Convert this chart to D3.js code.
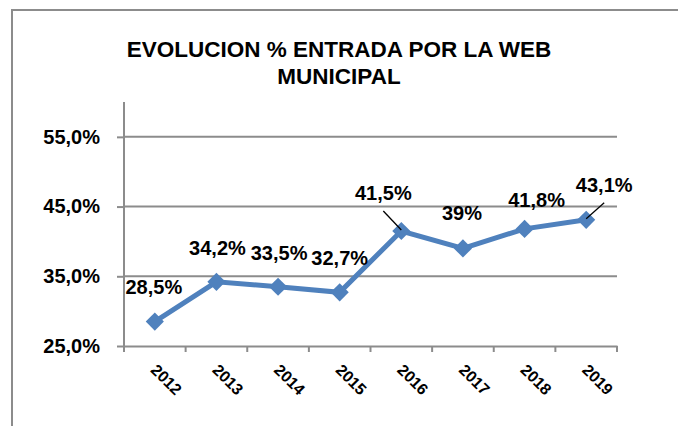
<!DOCTYPE html>
<html>
<head>
<meta charset="utf-8">
<script src="https://cdn.jsdelivr.net/npm/d3@7"></script>
<style>
  body { margin: 0; background: #fff; }
  text { font-family: "Liberation Sans", Arial, sans-serif; font-weight: bold; fill: #000; }
</style>
</head>
<body>
<svg id="chart"></svg>
<script>
const years = ["2012", "2013", "2014", "2015", "2016", "2017", "2018", "2019"];
const values = [28.5, 34.2, 33.5, 32.7, 41.5, 39, 41.8, 43.1];
const valueLabels = ["28,5%", "34,2%", "33,5%", "32,7%", "41,5%", "39%", "41,8%", "43,1%"];
const yTicks = [25, 35, 45, 55];
const titleLines = ["EVOLUCION % ENTRADA POR LA WEB", "MUNICIPAL"];

const w = 678;
const h = 426;
const pLeft = 124;
const pRight = 617;
const pTop = 102;
const pBottom = 346;

const svg = d3.select("#chart")
  .attr("width", w)
  .attr("height", h);

// outer frame (runs off the right and bottom edges)
svg.append("rect")
  .attr("x", 12).attr("y", 10)
  .attr("width", 700).attr("height", 460)
  .attr("fill", "none")
  .attr("stroke", "#8c8c8c")
  .attr("stroke-width", 2);

svg.selectAll(".title")
  .data(titleLines)
  .enter()
  .append("text")
  .attr("class", "title")
  .attr("x", 339)
  .attr("y", (d, i) => 57 + i * 27)
  .attr("text-anchor", "middle")
  .style("font-size", "22.5px")
  .text(d => d);

const xScale = d3.scaleBand()
  .domain(years)
  .range([pLeft, pRight]);

const yScale = d3.scaleLinear()
  .domain([25, 60])
  .range([pBottom, pTop]);

const cx = (d, i) => xScale(years[i]) + xScale.bandwidth() / 2;

// gridlines
svg.selectAll(".grid")
  .data(yTicks.slice(1))
  .enter()
  .append("line")
  .attr("x1", pLeft)
  .attr("x2", pRight)
  .attr("y1", d => yScale(d))
  .attr("y2", d => yScale(d))
  .attr("stroke", "#8c8c8c")
  .attr("stroke-width", 2);

// y axis
const yAxis = d3.axisLeft(yScale)
  .tickValues(yTicks)
  .tickSize(7)
  .tickFormat(d => d3.format(".1f")(d).replace(".", ",") + "%");
const gy = svg.append("g")
  .attr("transform", "translate(" + pLeft + ",0)")
  .call(yAxis);
gy.selectAll("path, line").attr("stroke", "#8c8c8c").attr("stroke-width", 2);
gy.select(".domain").attr("d", "M0," + pTop + "V" + pBottom);
gy.selectAll("text")
  .attr("x", -24)
  .style("font-size", "20px")
  .style("font-family", "Liberation Sans, Arial, sans-serif");

// x axis
const xAxis = d3.axisBottom(xScale).tickSize(0).tickSizeOuter(0);
const gx = svg.append("g")
  .attr("transform", "translate(0," + pBottom + ")")
  .call(xAxis);
gx.select(".domain").attr("stroke", "#8c8c8c").attr("stroke-width", 2);
gx.selectAll("text")
  .attr("text-anchor", "start")
  .attr("dy", "0.35em")
  .attr("x", 0)
  .attr("y", 0)
  .attr("transform", "translate(-1,21) rotate(45)")
  .style("font-size", "16px")
  .style("font-family", "Liberation Sans, Arial, sans-serif");
gx.selectAll(".edge")
  .data(d3.range(years.length + 1))
  .enter()
  .append("line")
  .attr("class", "edge")
  .attr("x1", i => pLeft + i * xScale.step())
  .attr("x2", i => pLeft + i * xScale.step())
  .attr("y1", 0).attr("y2", 6)
  .attr("stroke", "#8c8c8c")
  .attr("stroke-width", 2);

// series line
const line = d3.line()
  .x((d, i) => cx(d, i))
  .y(d => yScale(d));
svg.append("path")
  .datum(values)
  .attr("d", line)
  .attr("fill", "none")
  .attr("stroke", "#4f81bd")
  .attr("stroke-width", 5);

svg.selectAll(".marker")
  .data(values)
  .enter()
  .append("path")
  .attr("class", "marker")
  .attr("d", d3.symbol(d3.symbolSquare).size(165))
  .attr("transform", (d, i) => "translate(" + cx(d, i) + "," + yScale(d) + ") rotate(45)")
  .attr("fill", "#4f81bd");

// data labels (offsets relative to each point)
const labelDx = [-1, 1, 1, 0, -18, -1, 12, 18];
const labelDy = [-35, -34, -34, -34, -38, -35, -29, -35];
svg.selectAll(".lbl")
  .data(values)
  .enter()
  .append("text")
  .attr("class", "lbl")
  .attr("x", (d, i) => cx(d, i) + labelDx[i])
  .attr("y", (d, i) => yScale(d) + labelDy[i])
  .attr("dy", "0.35em")
  .attr("text-anchor", "middle")
  .style("font-size", "20px")
  .text((d, i) => valueLabels[i]);

// leader lines for the labels that were moved away
const leaders = [4, 7];
svg.selectAll(".leader")
  .data(leaders)
  .enter()
  .append("line")
  .attr("x1", i => cx(values[i], i) + labelDx[i])
  .attr("y1", i => yScale(values[i]) + labelDy[i] + 18)
  .attr("x2", i => cx(values[i], i))
  .attr("y2", i => yScale(values[i]) - 1)
  .attr("stroke", "#000")
  .attr("stroke-width", 1.3);
</script>
</body>
</html>
